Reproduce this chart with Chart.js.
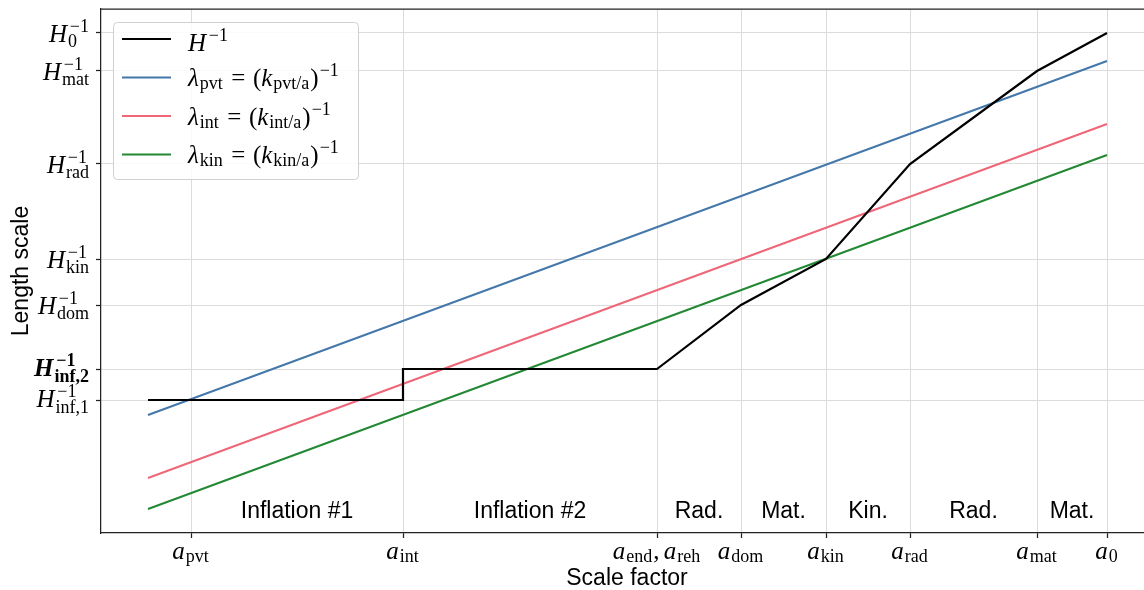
<!DOCTYPE html>
<html><head><meta charset="utf-8">
<script src="https://cdn.jsdelivr.net/npm/chart.js@4.4.1/dist/chart.umd.min.js"></script>
<style>html,body{margin:0;padding:0;background:#fff;overflow:hidden}#wrap{width:1144px;height:590px;position:relative;overflow:hidden}</style>
</head><body><div id="wrap"><canvas id="c" width="1153" height="590"></canvas></div>
<script>
// ---- data (log scale factor / log length, arbitrary units) ----
const xTickNames  = ['pvt', 'int', 'end,reh', 'dom', 'kin', 'rad', 'mat', '0'];
const xTickValues = [4.5, 15.1, 27.8, 32.0, 36.25, 40.45, 46.8, 50.3];
const yTickNames  = ['0', 'mat', 'rad', 'kin', 'dom', 'inf,2', 'inf,1'];
const yTickValues = [25.0, 23.1, 18.45, 13.7, 11.4, 8.2, 6.65];
const hubbleX = [2.35, 15.1, 15.1, 27.8, 32.0, 36.25, 40.45, 46.8, 50.3];
const hubbleY = [6.65, 6.65, 8.2, 8.2, 11.4, 13.7, 18.45, 23.1, 25.0];
const modeX = [2.35, 50.3];
const pvtY  = [5.9, 23.6];
const intY  = [2.75, 20.45];
const kinY  = [1.2, 18.9];
const modeNames = ['pvt', 'int', 'kin'];
const regionLabels = ['Inflation #1', 'Inflation #2', 'Rad.', 'Mat.', 'Kin.', 'Rad.', 'Mat.'];
const regionStart  = [4.5, 15.1, 27.8, 32.0, 36.25, 40.45, 46.8];
const regionEnd    = [15.1, 27.8, 32.0, 36.25, 40.45, 46.8, 50.3];

// ---- styles ----
const SERIF = '"Liberation Serif", "Times New Roman", serif';
const SANS = '"Liberation Sans", Arial, Helvetica, sans-serif';
const COLORS = ['#000000', '#4477AA', '#EE6677', '#228833'];
const MATH = 25;

function mfont(size, it, bold) { return (it ? 'italic ' : '') + (bold ? 'bold ' : '') + size.toFixed(1) + 'px ' + SERIF; }

function layoutMath(ctx, toks, size, bold) {
  const items = []; let x = 0, asc = 0, desc = 0, prevIt = false;
  const ss = size * 0.72;
  for (const tk of toks) {
    if (tk.k === 'sp') { x += tk.w * size; prevIt = false; continue; }
    if (tk.k === 'it' || tk.k === 'rm') {
      const f = mfont(size, tk.k === 'it', bold); ctx.font = f;
      const m = ctx.measureText(tk.t);
      items.push({ t: tk.t, f, x, y: 0 });
      x += m.width;
      prevIt = tk.k === 'it';
      asc = Math.max(asc, m.actualBoundingBoxAscent); desc = Math.max(desc, m.actualBoundingBoxDescent);
    } else {
      const f = mfont(ss, false, bold); ctx.font = f; let w = 0;
      const ic = prevIt ? size * 0.07 : 0;
      if (tk.sup) {
        const m = ctx.measureText(tk.sup); const dy = -size * 0.40;
        items.push({ t: tk.sup, f, x: x + 1 + ic, y: dy }); w = Math.max(w, m.width + ic);
        asc = Math.max(asc, m.actualBoundingBoxAscent - dy); desc = Math.max(desc, m.actualBoundingBoxDescent + dy);
      }
      if (tk.sub) {
        const m = ctx.measureText(tk.sub); const dy = size * (tk.sup ? 0.22 : 0.12);
        items.push({ t: tk.sub, f, x: x + 1, y: dy }); w = Math.max(w, m.width);
        asc = Math.max(asc, m.actualBoundingBoxAscent - dy); desc = Math.max(desc, m.actualBoundingBoxDescent + dy);
      }
      x += w + 2; prevIt = false;
    }
  }
  return { items, width: x, asc, desc };
}
function drawMath(ctx, toks, size, x, y, align, mode, bold) {
  const L = layoutMath(ctx, toks, size, bold);
  let x0 = x; if (align === 'right') x0 = x - L.width; else if (align === 'center') x0 = x - L.width / 2;
  const base = mode === 'center' ? y + (L.asc - L.desc) / 2 : y;
  ctx.textAlign = 'left'; ctx.textBaseline = 'alphabetic';
  for (const it of L.items) { ctx.font = it.f; ctx.fillText(it.t, x0 + it.x, base + it.y); }
  return L;
}

const mathPlugin = {
  id: 'mathLabels',
  beforeDatasetsDraw(chart) {
    const c = chart.ctx, a = chart.chartArea;
    c.save(); c.strokeStyle = '#222'; c.lineWidth = 1.25;
    c.beginPath(); c.moveTo(a.left, a.top); c.lineTo(a.right, a.top); c.stroke(); c.restore();
  },
  afterDraw(chart) {
    const c = chart.ctx, a = chart.chartArea, xs = chart.scales.x, ys = chart.scales.y;
    c.save(); c.fillStyle = '#000';
    // y tick labels
    yTickValues.forEach((v, i) => {
      const n = yTickNames[i];
      drawMath(c, [{ k: 'it', t: 'H' }, { k: 'ss', sub: n, sup: '\u22121' }], MATH, a.left - 11, ys.getPixelForValue(v), 'right', 'center', n === 'inf,2');
    });
    // x tick labels
    xTickValues.forEach((v, i) => {
      const toks = [];
      xTickNames[i].split(',').forEach((p, j) => {
        if (j) toks.push({ k: 'rm', t: ',' }, { k: 'sp', w: 0.17 });
        toks.push({ k: 'it', t: 'a' }, { k: 'ss', sub: p });
      });
      drawMath(c, toks, MATH, xs.getPixelForValue(v), a.bottom + 26, 'center', 'base');
    });
    // region labels
    c.font = '23px ' + SANS; c.textAlign = 'center'; c.textBaseline = 'alphabetic';
    regionLabels.forEach((t, i) => {
      c.fillText(t, (xs.getPixelForValue(regionStart[i]) + xs.getPixelForValue(regionEnd[i])) / 2, a.bottom - 15);
    });
    // legend
    const entries = [[{ k: 'it', t: 'H' }, { k: 'ss', sup: '\u22121' }]];
    modeNames.forEach(n => entries.push([
      { k: 'it', t: '\u03bb' }, { k: 'ss', sub: n }, { k: 'sp', w: 0.3 }, { k: 'rm', t: '=' }, { k: 'sp', w: 0.3 },
      { k: 'rm', t: '(' }, { k: 'it', t: 'k' }, { k: 'ss', sub: n + '/a' }, { k: 'rm', t: ')' }, { k: 'ss', sup: '\u22121' }
    ]));
    const bx = a.left + 12, by = a.top + 13, tx = bx + 75;
    let maxW = 0; entries.forEach(e => { maxW = Math.max(maxW, layoutMath(c, e, MATH, false).width); });
    const bw = Math.max(245, tx + maxW + 8 - bx), bh = 157;
    c.beginPath(); c.roundRect(bx + 0.5, by + 0.5, bw, bh, 4);
    c.fillStyle = 'rgba(255,255,255,0.85)'; c.fill(); c.strokeStyle = '#d0d0d0'; c.lineWidth = 1; c.stroke();
    entries.forEach((e, i) => {
      const yy = by + 17 + i * 38.5;
      c.strokeStyle = COLORS[i]; c.lineWidth = 2;
      c.beginPath(); c.moveTo(bx + 9, yy); c.lineTo(bx + 58, yy); c.stroke();
      c.fillStyle = '#000';
      drawMath(c, e, MATH, tx, yy, 'left', 'center', false);
    });
    c.restore();
  }
};

const mk = (xs, ys) => xs.map((x, i) => ({ x, y: ys[i] }));
const lineDs = (label, data, color, w) => ({ label, data, borderColor: color, backgroundColor: color, borderWidth: w, pointRadius: 0, tension: 0, fill: false });

new Chart(document.getElementById('c'), {
  type: 'line',
  data: {
    datasets: [
      lineDs('H^-1', mk(hubbleX, hubbleY), COLORS[0], 2.2),
      lineDs('λ_pvt = (k_pvt/a)^-1', mk(modeX, pvtY), COLORS[1], 2),
      lineDs('λ_int = (k_int/a)^-1', mk(modeX, intY), COLORS[2], 2),
      lineDs('λ_kin = (k_kin/a)^-1', mk(modeX, kinY), COLORS[3], 2)
    ]
  },
  options: {
    responsive: false, animation: false, devicePixelRatio: 1,
    layout: { padding: { top: 9, left: 0, right: 0, bottom: 0 } },
    plugins: { legend: { display: false }, tooltip: { enabled: false } },
    scales: {
      x: {
        type: 'linear', min: 0, max: 52.6,
        afterBuildTicks(s) { s.ticks = xTickValues.map(v => ({ value: v })); },
        afterFit(s) { s.height = 57; },
        ticks: { display: false },
        grid: { color: '#dcdcdc', lineWidth: 1, tickLength: 5, tickColor: '#222', tickWidth: 1.25 },
        border: { color: '#222', width: 1.25 },
        title: { display: true, text: 'Scale factor', color: '#000', font: { family: SANS, size: 23 }, padding: { top: 0, bottom: -2 } }
      },
      y: {
        type: 'linear', min: 0, max: 26.2,
        afterBuildTicks(s) { s.ticks = yTickValues.map(v => ({ value: v })); },
        afterFit(s) { s.width = 101; },
        ticks: { display: false },
        grid: { color: '#dcdcdc', lineWidth: 1, tickLength: 5, tickColor: '#222', tickWidth: 1.25 },
        border: { color: '#222', width: 1.25 },
        title: { display: true, text: 'Length scale', color: '#000', font: { family: SANS, size: 23 }, padding: { top: 8, bottom: 0 } }
      }
    }
  },
  plugins: [mathPlugin]
});
</script>
</body></html>
